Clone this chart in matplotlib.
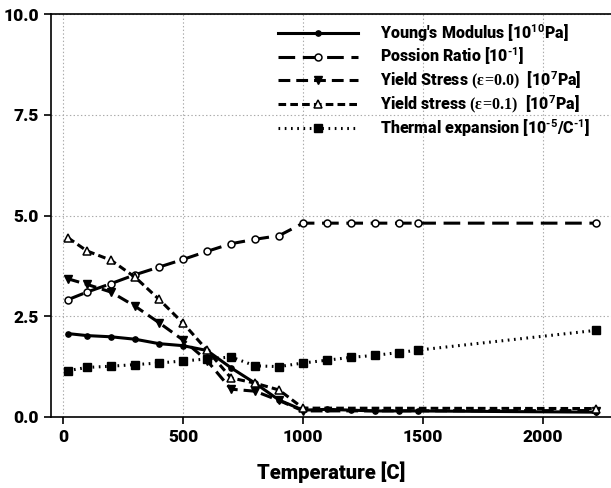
import matplotlib
matplotlib.use('Agg')
import matplotlib.pyplot as plt

plt.rcParams['font.family'] = ['Roboto', 'DejaVu Sans']
plt.rcParams['font.weight'] = 'heavy'
plt.rcParams['mathtext.fontset'] = 'custom'
plt.rcParams['mathtext.rm'] = 'Roboto:bold'
plt.rcParams['mathtext.sf'] = 'Liberation Serif'
plt.rcParams['mathtext.default'] = 'rm'
plt.rcParams['lines.scale_dashes'] = False

# temperatures [C]
temp_full = [20, 100, 200, 300, 400, 500, 600, 700, 800, 900, 1000,
             1100, 1200, 1300, 1400, 1480, 2220]
temp_yield = [20, 100, 200, 300, 400, 500, 600, 700, 800, 900, 1000, 2220]

youngs = [2.07, 2.02, 1.99, 1.93, 1.82, 1.77, 1.65, 1.22, 0.84, 0.42, 0.17,
          0.19, 0.17, 0.15, 0.15, 0.15, 0.12]
poisson = [2.91, 3.10, 3.31, 3.53, 3.72, 3.91, 4.11, 4.30, 4.41, 4.50, 4.81,
           4.81, 4.81, 4.81, 4.81, 4.81, 4.81]
yield_00 = [3.43, 3.29, 3.10, 2.75, 2.34, 1.91, 1.40, 0.69, 0.64, 0.41, 0.15, 0.16]
yield_01 = [4.45, 4.12, 3.89, 3.47, 2.92, 2.33, 1.66, 0.97, 0.84, 0.67, 0.22, 0.21]
thermal = [1.15, 1.23, 1.26, 1.30, 1.34, 1.39, 1.44, 1.49, 1.27, 1.25, 1.34,
           1.41, 1.48, 1.53, 1.60, 1.66, 2.15]

labels = [
    "Young's Modulus [10$^{10}$Pa]",
    "Possion Ratio [10$^{\u20101}$]",
    r"Yield Stress $\mathsf{(\varepsilon\!=\!0.0)}$  [10$^{7}$Pa]",
    r"Yield stress $\mathsf{(\varepsilon\!=\!0.1)}$  [10$^{7}$Pa]",
    "Thermal expansion [10$^{\u20105}$/C$^{\u20101}$]",
]

fig = plt.figure(figsize=(6.11, 4.88), dpi=100)
ax = fig.add_axes([0.0835, 0.1455, 0.9165, 0.8258])

ax.plot(temp_full, youngs, color='black', lw=2.2, marker='o', ms=3.8,
        label=labels[0])
ax.plot(temp_full, poisson, color='black', lw=2.2, dashes=(12, 5.5),
        marker='o', ms=5, mfc='white', mew=1.1, label=labels[1])
ax.plot(temp_yield, yield_00, color='black', lw=2.2, dashes=(8.5, 4.3),
        marker='v', ms=6, label=labels[2])
ax.plot(temp_yield, yield_01, color='black', lw=2.2, dashes=(5.5, 3),
        marker='^', ms=6, mfc='white', mew=1.1, label=labels[3])
ax.plot(temp_full, thermal, color='black', lw=2.2, dashes=(1.2, 3.3),
        marker='s', ms=6, label=labels[4])

ax.set_xlim(-50, 2283)
ax.set_ylim(0, 10)
ax.set_xticks([0, 500, 1000, 1500, 2000])
ax.set_yticks([0, 2.5, 5.0, 7.5, 10.0])
ax.set_yticklabels(['0.0', '2.5', '5.0', '7.5', '10.0'])
ax.tick_params(direction='out', length=5, width=1.2, labelsize=12.5)
for lab in ax.get_xticklabels() + ax.get_yticklabels():
    lab.set_fontweight('heavy')

ax.grid(True, color='#aaaaaa', linestyle=':', linewidth=0.8)
ax.spines['right'].set_visible(False)
for s in ['left', 'bottom', 'top']:
    ax.spines[s].set_linewidth(1.2)

ax.set_xlabel('Temperature [C]', fontsize=14.5, fontweight='heavy', labelpad=12)

ax.legend(loc='upper right', frameon=False, fontsize=11.5, handlelength=5,
          handletextpad=1.4, labelspacing=0.12, borderaxespad=0.1,
          bbox_to_anchor=(0.978, 1.0))

fig.savefig('out.png', dpi=100)
